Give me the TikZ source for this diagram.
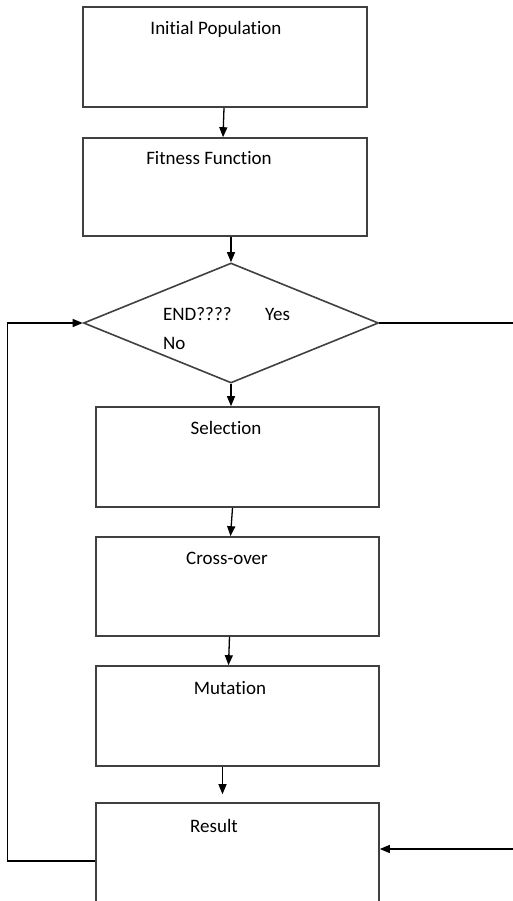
\documentclass[tikz,border=0pt]{standalone}
\usepackage{fontspec}
\setmainfont{Carlito}[Ligatures={NoCommon}]
\usetikzlibrary{arrows.meta}
\usetikzlibrary{shapes.geometric}

\tikzset{
	stepbox/.style={draw=black!75,line width=1.6pt,minimum width=284pt,minimum height=100pt,inner sep=0pt},
	boxtext/.style={anchor=base,inner sep=0pt,font=\fontsize{19}{23}\selectfont},
	pfeil/.style={-{Triangle[length=10pt,width=8pt]},line width=1.3pt}
}

\begin{document}
\begin{tikzpicture}[x=1pt,y=-1pt]
	 \useasboundingbox (0,0) rectangle (512,901);
	 %
	 \node (init) at (225,57) [stepbox] {};
	 \node (tinit) at (216,35) [boxtext] {Initial Population};
	 %
	 \node (fit) at (225,187) [stepbox,minimum height=98pt] {};
	 \node (tfit) at (209,165) [boxtext] {Fitness Function};
	 %
	 \node (dec) at (231,323) [draw=black!75,line width=1.6pt,diamond,minimum width=295pt,minimum height=120pt,inner sep=0pt] {};
	 \node (tend) at (163,320) [boxtext,anchor=base west] {END????};
	 \node (tyes) at (265,320) [boxtext,anchor=base west] {Yes};
	 \node (tno) at (163,349) [boxtext,anchor=base west] {No};
	 %
	 \node (sel) at (237.5,457) [stepbox,minimum width=283pt] {};
	 \node (tsel) at (226,434) [boxtext] {Selection};
	 %
	 \node (cross) at (237.5,586.5) [stepbox,minimum width=283pt,minimum height=99pt] {};
	 \node (tcross) at (227,564) [boxtext] {Cross-over};
	 %
	 \node (mut) at (237.5,716) [stepbox,minimum width=283pt] {};
	 \node (tmut) at (230,694) [boxtext] {Mutation};
	 %
	 \node (res) at (237.5,854) [stepbox,minimum width=283pt,minimum height=102pt] {};
	 \node (tres) at (214,832) [boxtext] {Result};
	 %
	 %Population-Fitness
	 \draw[pfeil] ([xshift=-1pt]init.south) -- ([xshift=-2pt]fit.north);
	 %
	 %Fitness-END
	 \draw[pfeil] (fit.south -| dec.north) -- (dec.north);
	 %
	 %END-Selection (No)
	 \draw[pfeil] (dec.south) -- (dec.south |- sel.north);
	 %
	 %Selection-Cross-over
	 \draw[pfeil] ([xshift=-5pt]sel.south) -- ([xshift=-7pt]cross.north);
	 %
	 %Cross-over-Mutation
	 \draw[pfeil] ([xshift=-8pt]cross.south) -- ([xshift=-9pt]mut.north);
	 %
	 %Mutation-Result
	 \draw[pfeil] ([xshift=-15pt]mut.south) -- ([xshift=-15pt,yshift=8pt]res.north);
	 %
	 %Result-END (loop)
	 \draw[pfeil] ([yshift=-7pt]res.west) -- ++(-88,0) |- (dec.west);
	 %
	 %END-Result (Yes)
	 \draw[pfeil] (dec.east) -- ++(160,0) |- ([yshift=5pt]res.east);
\end{tikzpicture}
\end{document}
